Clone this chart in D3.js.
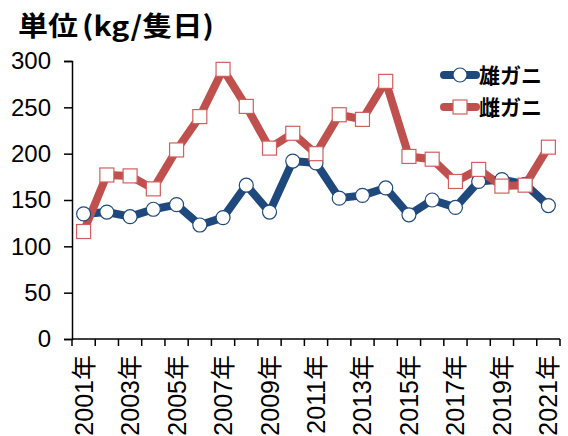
<!DOCTYPE html>
<html><head><meta charset="utf-8">
<script src="https://cdn.jsdelivr.net/npm/d3@7"></script>
<style>body{margin:0;background:#fff}</style>
</head><body>
<svg id="c" width="568" height="436"></svg>
<script>
const years = d3.range(2001, 2022);
const maleValues = [135,137,132,140,145,123,131,166,137,192,190,152,155,163,134,150,142,170,172,167,144];
const femaleValues = [116,177,176,162,204,240,291,251,206,222,200,242,237,278,197,194,170,183,165,166,207];
const yTicks = [0,50,100,150,200,250,300];
const seriesNames = ["雄ガニ","雌ガニ"];
const titleMain = "単位";
const titleUnit = "(kg/隻日)";

const svg = d3.select("#c");
const x = d3.scaleBand().domain(years).range([72, 560]);
const y = d3.scaleLinear().domain([0, 300]).range([339, 61]);
const numFont = "'Liberation Sans', 'Noto Sans CJK JP', sans-serif";

// title
const tt = svg.append("text").attr("x", 18).attr("y", 36)
  .attr("font-family", "'Noto Sans CJK JP', sans-serif").attr("font-weight", "bold")
  .attr("font-size", 27).attr("fill", "#000");
tt.append("tspan").attr("x", 18).attr("textLength", 60).attr("lengthAdjust", "spacingAndGlyphs").text(titleMain);
tt.append("tspan").attr("x", 82).attr("textLength", 132).attr("lengthAdjust", "spacingAndGlyphs").text(titleUnit);

// y axis
const ya = svg.append("g").attr("transform", "translate(72,0)")
  .call(d3.axisLeft(y).tickValues(yTicks).tickSize(8).tickPadding(13));
ya.select(".domain").attr("stroke", "#000").attr("stroke-width", 1.5);
ya.selectAll(".tick line").attr("stroke", "#000").attr("stroke-width", 1.5);
ya.selectAll("text").attr("font-family", numFont).attr("font-size", 24).attr("fill", "#000");

// x axis
const xa = svg.append("g").attr("transform", "translate(0,339)");
xa.append("line").attr("x1", 72).attr("x2", 560).attr("y1", 0).attr("y2", 0)
  .attr("stroke", "#000").attr("stroke-width", 1.5);
const bounds = years.map(d => x(d)).concat([x(years[years.length-1]) + x.bandwidth()]);
xa.selectAll("line.t").data(bounds).enter().append("line").attr("class","t")
  .attr("x1", d => d).attr("x2", d => d).attr("y1", 0).attr("y2", 7)
  .attr("stroke", "#000").attr("stroke-width", 1.5);
xa.selectAll("text").data(years.filter((d,i) => i % 2 === 0)).enter().append("text")
  .attr("transform", d => `translate(${x(d) + x.bandwidth()/2 + 9},16) rotate(-90)`)
  .attr("text-anchor", "end")
  .attr("font-family", numFont).attr("font-size", 25).attr("fill", "#000")
  .text(d => d + "年");

const cx = d => x(d) + x.bandwidth()/2;
const blue = "#1F497D", red = "#C0504D";
const line = vals => d3.line().x((d,i) => cx(years[i])).y(d => y(d))(vals);

svg.append("path").attr("d", line(maleValues)).attr("fill","none").attr("stroke", blue).attr("stroke-width", 8).attr("stroke-linejoin","round");
svg.append("path").attr("d", line(femaleValues)).attr("fill","none").attr("stroke", red).attr("stroke-width", 8).attr("stroke-linejoin","round");

svg.selectAll("circle.m").data(maleValues).enter().append("circle").attr("class","m")
  .attr("cx", (d,i) => cx(years[i])).attr("cy", d => y(d)).attr("r", 7)
  .attr("fill", "#fff").attr("stroke", blue).attr("stroke-width", 1.2);
svg.selectAll("rect.f").data(femaleValues).enter().append("rect").attr("class","f")
  .attr("x", (d,i) => cx(years[i]) - 7).attr("y", d => y(d) - 7).attr("width", 14).attr("height", 14)
  .attr("fill", "#fff").attr("stroke", "#D0605D").attr("stroke-width", 1.2);

// legend
const lg = svg.append("g");
[[blue, 75, "c"], [red, 107, "s"]].forEach((p, i) => {
  lg.append("line").attr("x1", 444).attr("x2", 476).attr("y1", p[1]).attr("y2", p[1])
    .attr("stroke", p[0]).attr("stroke-width", 8).attr("stroke-linecap", "round");
  if (p[2] === "c") lg.append("circle").attr("cx", 460).attr("cy", p[1]).attr("r", 7).attr("fill","#fff").attr("stroke", p[0]).attr("stroke-width",1.2);
  else lg.append("rect").attr("x", 453).attr("y", p[1]-7).attr("width",14).attr("height",14).attr("fill","#fff").attr("stroke","#D0605D").attr("stroke-width",1.2);
  lg.append("text").attr("x", 479).attr("y", p[1] + 8)
    .attr("font-family", "'Noto Sans CJK JP', sans-serif").attr("font-weight", "bold")
    .attr("font-size", 21).attr("fill", "#000").text(seriesNames[i]);
});
</script>
</body></html>
